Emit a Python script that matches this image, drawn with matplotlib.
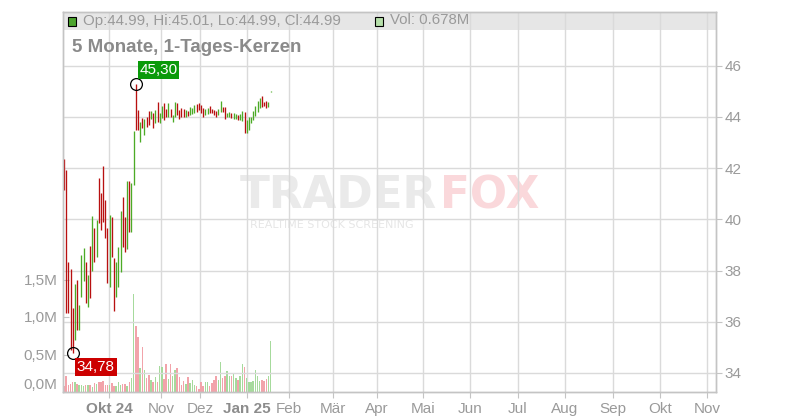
import matplotlib
matplotlib.use("Agg")
import matplotlib.pyplot as plt
from matplotlib.patches import Rectangle

plt.rcParams['font.family'] = ['Liberation Sans', 'DejaVu Sans']

# daily bars, trading-day index 0..95 (high / low / direction)
highs = [42.36, 41.93, 38.32, 38.06, 36.53, 37.48, 37.63, 36.66, 38.61, 38.87,
         38.34, 37.83, 38.96, 40.13, 39.65, 39.98, 41.63, 41.02, 42.09, 40.76,
         39.65, 40.17, 40.08, 38.48, 38.35, 38.91, 40.34, 40.89, 40.11, 41.50,
         41.50, 41.41, 43.46, 45.30, 44.27, 43.82, 43.95, 43.91, 43.99, 44.25,
         44.25, 44.14, 44.27, 44.57, 44.14, 44.43, 44.53, 44.30, 44.56, 44.30,
         44.08, 44.60, 44.53, 44.27, 44.34, 44.30, 44.27, 44.24, 44.40, 44.34,
         44.47, 44.51, 44.56, 44.47, 44.34, 44.30, 44.34, 44.43, 44.30, 44.27,
         44.23, 44.30, 44.62, 44.40, 44.40, 44.17, 44.20, 44.14, 44.14, 44.10,
         44.08, 44.10, 44.25, 44.21, 43.88, 44.01, 44.01, 44.23, 44.43, 44.64,
         44.73, 44.82, 44.60, 44.62, 44.58, 45.01]
lows = [41.15, 36.33, 36.33, 34.90, 34.78, 35.29, 35.68, 35.68, 36.96, 37.61,
        36.72, 36.59, 36.92, 38.00, 38.35, 38.54, 39.87, 39.59, 39.91, 39.26,
        37.50, 37.37, 38.54, 36.43, 36.98, 37.37, 37.96, 38.93, 38.74, 38.83,
        39.52, 39.52, 41.34, 43.49, 43.49, 43.04, 43.56, 43.30, 43.62, 43.69,
        43.91, 43.56, 43.75, 43.82, 43.75, 43.95, 43.88, 44.01, 43.99, 44.01,
        43.82, 44.01, 44.08, 43.91, 44.01, 44.01, 44.01, 44.05, 44.08, 44.10,
        44.14, 44.21, 44.27, 44.17, 43.99, 44.08, 44.10, 44.14, 44.14, 44.08,
        44.01, 44.08, 44.18, 44.21, 43.91, 44.01, 43.99, 43.97, 43.94, 43.91,
        43.88, 43.88, 43.84, 43.36, 43.36, 43.49, 43.78, 43.88, 44.04, 44.21,
        44.34, 44.40, 44.43, 44.34, 44.40, 44.99]
direction = ("rrrrrgrggg" "rgrgrgrrrr" "rgrrgggrrg" "rggrrgrgrr" "grgrggrrgr"
             "ggrrrrgrgg" "grrrrggrrr" "rggrrggrgg" "rggrgggggg" "grrrgg")
# volume in millions
volumes = [0.085, 0.21, 0.10, 0.11, 0.14, 0.13, 0.11, 0.10, 0.10, 0.08,
           0.09, 0.09, 0.09, 0.07, 0.12, 0.11, 0.13, 0.14, 0.15, 0.09,
           0.09, 0.09, 0.12, 0.08, 0.08, 0.13, 0.09, 0.11, 0.11, 0.08,
           0.14, 0.19, 1.31,
           0.88, 0.73, 0.32, 0.60, 0.30, 0.19, 0.23, 0.16, 0.14, 0.20,
           0.13, 0.35, 0.33, 0.18, 0.38, 0.18, 0.38, 0.22, 0.30, 0.32,
           0.20, 0.10, 0.15, 0.11, 0.20, 0.12, 0.16, 0.09, 0.08, 0.04,
           0.13, 0.08, 0.14, 0.14, 0.08, 0.12, 0.16, 0.22, 0.16, 0.40,
           0.19, 0.21, 0.28, 0.21, 0.21, 0.24, 0.19, 0.16, 0.21, 0.38,
           0.33, 0.19, 0.14, 0.14, 0.15, 0.29, 0.22, 0.15, 0.16, 0.15,
           0.17, 0.21, 0.678]

month_pos = [20.7, 44.6, 62.5, 84.1, 103.4, 123.7, 143.9, 165.1, 186.7,
             208.7, 230.3, 252.4, 274.0, 295.6]
month_labels = ["Okt 24", "Nov", "Dez", "Jan 25", "Feb", "Mär", "Apr", "Mai",
                "Jun", "Jul", "Aug", "Sep", "Okt", "Nov"]
bold_labels = ["Okt 24", "Jan 25"]
price_ticks = [34, 36, 38, 40, 42, 44, 46]
vol_ticks = [0, 0.5, 1.0, 1.5]
vol_labels = ["0,0M", "0,5M", "1,0M", "1,5M"]

last_text = "Op:44.99, Hi:45.01, Lo:44.99, Cl:44.99"
vol_text = "Vol: 0.678M"
title = "5 Monate, 1-Tages-Kerzen"

W, H = 800, 420
L, R, T, B = 63, 716, 11.7, 392


def fx(x):
    return x / W


def fy(y):
    return 1 - y / H


RED, GREEN = '#b81010', '#4cab26'
VRED, VGREEN = '#f2a3aa', '#a6da9c'
GRID, SPINE, LABEL = '#dadada', '#c4c4c4', '#9a9a9a'

fig = plt.figure(figsize=(8, 4.2), dpi=100)
ax_v = fig.add_axes([fx(L), fy(B), (R - L) / W, (B - T) / H])
ax = ax_v.twinx()
ax_v.set_zorder(0)
ax.set_zorder(1)
ax.patch.set_visible(False)

idx = list(range(len(highs)))
ccol = [GREEN if d == 'g' else RED for d in direction]
vcol = [VGREEN if d == 'g' else VRED for d in direction]

# volume
ax_v.bar(idx, volumes, width=0.68, color=vcol, zorder=2)
ax_v.set_ylim(0, (B - T) / 75.0)
ax_v.set_yticks(vol_ticks, vol_labels)
ax_v.set_xlim(-0.46, 299.8)
ax_v.set_xticks(month_pos, month_labels)
ax_v.set_axisbelow(True)
ax_v.grid(axis='x', color=GRID, lw=1)
ax_v.tick_params(axis='y', direction='in', length=4, color=SPINE, labelcolor=LABEL,
                 labelsize=11, pad=4)
ax_v.tick_params(axis='x', length=4, color=SPINE, labelcolor=LABEL, labelsize=11, pad=3)
for t in ax_v.get_xticklabels():
    if t.get_text() in bold_labels:
        t.set_fontweight('bold')
        t.set_color('#8c8c8c')
ax_v.get_yticklabels()[0].set_va('bottom')

# header bar
ax_v.add_patch(Rectangle((0, 1 - 18.3 / (B - T)), 1, 18.3 / (B - T), transform=ax_v.transAxes,
                         fc='#e6e6e6', ec='none', zorder=0.2))

# watermark
ax_v.text(fx(240), fy(208.5), "TRADER", transform=fig.transFigure, family='DejaVu Sans',
          fontsize=31.5, fontweight='bold', color='#eaeaea', va='baseline', ha='left', zorder=0.3)
ax_v.text(fx(440), fy(208.5), "FOX", transform=fig.transFigure, family='DejaVu Sans',
          fontsize=31.5, fontweight='bold', color='#fad8db', va='baseline', ha='left', zorder=0.3)
ax_v.text(fx(250), fy(225.5), "REALTIME STOCK SCREENING", transform=fig.transFigure,
          family='DejaVu Sans', fontsize=8, color='#e6e6e6', va='center', ha='left', zorder=0.3)

# price bars
ax.vlines(idx, lows, highs, colors=ccol, lw=0.95, zorder=2)
ax.set_ylim(34 - (B - 373) / 25.6, 34 + (373 - T) / 25.6)
ax.set_yticks(price_ticks, [str(p) for p in price_ticks])
ax.set_axisbelow(True)
ax.grid(axis='y', color=GRID, lw=1)
ax.tick_params(axis='y', length=4, color=SPINE, labelcolor=LABEL, labelsize=11, pad=2)

for a in (ax, ax_v):
    for s in a.spines.values():
        s.set_color(SPINE)
        s.set_linewidth(1)

# high / low markers
hi_i = highs.index(max(highs))
lo_i = lows.index(min(lows))
ax.plot(hi_i, highs[hi_i], 'o', mfc='none', mec='black', ms=8.5, mew=0.9, zorder=5)
ax.plot(lo_i, lows[lo_i], 'o', mfc='none', mec='black', ms=8.5, mew=0.9, zorder=5)
ax.annotate(f"{highs[hi_i]:.2f}".replace('.', ','), xy=(hi_i, highs[hi_i]),
            xytext=(2.6, 4.8), textcoords='offset points', ha='left', va='bottom',
            color='white', fontsize=11, zorder=6,
            bbox=dict(boxstyle='square,pad=0.12', fc='#0a9a0a', ec='none'))
ax.annotate(f"{lows[lo_i]:.2f}".replace('.', ','), xy=(lo_i, lows[lo_i]),
            xytext=(3.0, -4.8), textcoords='offset points', ha='left', va='top',
            color='white', fontsize=11, zorder=6,
            bbox=dict(boxstyle='square,pad=0.12', fc='#cc0000', ec='none'))

# header texts
fig.add_artist(Rectangle((fx(68), fy(26)), 8 / W, 9 / H, transform=fig.transFigure,
                         fc='#4ca42e', ec='black', lw=0.8))
fig.text(fx(83), fy(20.5), last_text, fontsize=10.8, color=LABEL, va='center', ha='left')
fig.add_artist(Rectangle((fx(375), fy(26)), 8 / W, 9 / H, transform=fig.transFigure,
                         fc='#b6e0aa', ec='black', lw=0.8))
fig.text(fx(390), fy(20.5), vol_text, fontsize=10.8, color=LABEL, va='center', ha='left')
fig.text(fx(72), fy(47), title, fontsize=13.5, fontweight='bold', color='#8a8a8a',
         va='center', ha='left')

fig.savefig("out.png", dpi=100)
